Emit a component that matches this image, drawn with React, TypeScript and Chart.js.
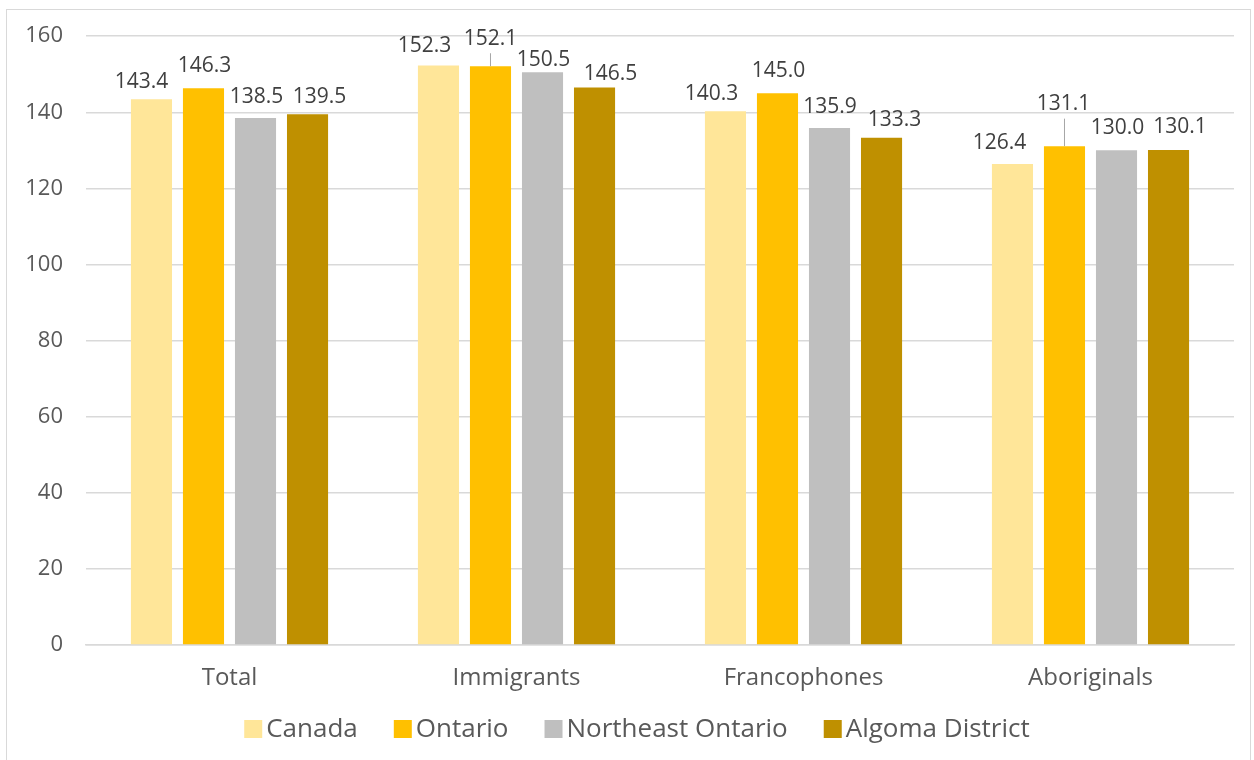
import React, { useEffect, useRef } from "react";
import { Chart, registerables } from "chart.js";

Chart.register(...registerables);

const categories = ["Total", "Immigrants", "Francophones", "Aboriginals"];
const seriesNames = ["Canada", "Ontario", "Northeast Ontario", "Algoma District"];
const canada = [143.4, 152.3, 140.3, 126.4];
const ontario = [146.3, 152.1, 145.0, 131.1];
const northeast = [138.5, 150.5, 135.9, 130.0];
const algoma = [139.5, 146.5, 133.3, 130.1];
const seriesColors = ["#FFE699", "#FFC000", "#BFBFBF", "#BF9000"];
const yMin = 0;
const yMax = 160;
const yStep = 20;

// label placement tweaks (pixels) per series / category, as Excel spread them
const labelDx = [
  [-10, -14, -14, -13],
  [1, 0, 1, -1],
  [1, 1, 0.5, 1],
  [12, 16, 13, 11.5],
];
const labelDy = [
  [3, 1, 3.5, -1],
  [-2, -7, -1.5, -21.5],
  [-0.5, 8, -0.5, -2],
  [3.5, 7, 3, -2],
];
const leaderLines = [
  [false, false, false, false],
  [false, true, false, true],
  [false, false, false, false],
  [false, false, false, false],
];

const FONT = "'Open Sans', 'DejaVu Sans', sans-serif";

const labelPlugin = {
  id: "valueLabels",
  afterDatasetsDraw(chart: any) {
    const ctx = chart.ctx;
    ctx.save();
    ctx.font = `21px ${FONT}`;
    ctx.fillStyle = "#404040";
    ctx.textAlign = "center";
    ctx.textBaseline = "alphabetic";
    chart.data.datasets.forEach((ds: any, i: number) => {
      const meta = chart.getDatasetMeta(i);
      meta.data.forEach((bar: any, j: number) => {
        const v = ds.data[j];
        const cx = bar.x + labelDx[i][j];
        const cy = bar.y - 22 + labelDy[i][j];
        if (leaderLines[i][j]) {
          ctx.save();
          ctx.strokeStyle = "#A6A6A6";
          ctx.lineWidth = 1;
          ctx.beginPath();
          ctx.moveTo(bar.x, cy + 16);
          ctx.lineTo(bar.x, bar.y);
          ctx.stroke();
          ctx.restore();
        }
        ctx.fillText(v.toFixed(1), cx, cy + 7.5);
      });
    });
    ctx.restore();
  },
};

const legendPlugin = {
  id: "customLegend",
  afterDraw(chart: any) {
    const ctx = chart.ctx;
    ctx.save();
    ctx.font = `26px ${FONT}`;
    const box = 18;
    const gap = 4;
    const spacing = 36;
    const items = chart.data.datasets.map((ds: any) => ({
      label: ds.label,
      color: ds.backgroundColor,
      w: ctx.measureText(ds.label).width,
    }));
    const total =
      items.reduce((s: number, it: any) => s + box + gap + it.w, 0) +
      spacing * (items.length - 1);
    let x = 637 - total / 2;
    const cy = 729;
    items.forEach((it: any) => {
      ctx.fillStyle = it.color;
      ctx.fillRect(x, cy - box / 2, box, box);
      ctx.fillStyle = "#595959";
      ctx.textAlign = "left";
      ctx.textBaseline = "middle";
      ctx.fillText(it.label, x + box + gap, cy + 1);
      x += box + gap + it.w + spacing;
    });
    ctx.restore();
  },
};

export default function App() {
  const canvasRef = useRef<HTMLCanvasElement | null>(null);

  useEffect(() => {
    document.body.style.margin = "0";
    const series = [canada, ontario, northeast, algoma];
    const chart = new Chart(canvasRef.current as HTMLCanvasElement, {
      type: "bar",
      data: {
        labels: categories,
        datasets: series.map((d, i) => ({
          label: seriesNames[i],
          data: d,
          backgroundColor: seriesColors[i],
          borderWidth: 0,
          categoryPercentage: 0.725,
          barPercentage: 0.79,
        })),
      },
      options: {
        animation: false,
        responsive: false,
        maintainAspectRatio: false,
        layout: { padding: { left: 0, top: 36, right: 20, bottom: 0 } },
        plugins: {
          legend: { display: false },
          tooltip: { enabled: false },
        },
        scales: {
          x: {
            grid: { display: false, drawTicks: false },
            border: { display: true, color: "#D9D9D9", width: 1.5 },
            ticks: {
              font: { family: FONT, size: 24 },
              color: "#595959",
              padding: 19,
            },
            afterFit: (scale: any) => {
              scale.height = 115;
            },
          },
          y: {
            min: yMin,
            max: yMax,
            ticks: {
              stepSize: yStep,
              font: { family: FONT, size: 22 },
              color: "#595959",
              padding: 23,
            },
            grid: { color: "#D9D9D9", lineWidth: 1.5, drawTicks: false },
            border: { display: false },
            afterFit: (scale: any) => {
              scale.width = 86;
            },
          },
        },
      },
      plugins: [labelPlugin, legendPlugin],
    });
    return () => chart.destroy();
  }, []);

  return (
    <div style={{ position: "relative", width: 1254, height: 760, background: "#fff" }}>
      <canvas ref={canvasRef} width={1254} height={760} style={{ display: "block" }} />
      <div
        style={{
          position: "absolute",
          left: 6,
          top: 9,
          width: 1245,
          height: 760,
          border: "1.5px solid #D9D9D9",
          boxSizing: "border-box",
          pointerEvents: "none",
        }}
      />
    </div>
  );
}
